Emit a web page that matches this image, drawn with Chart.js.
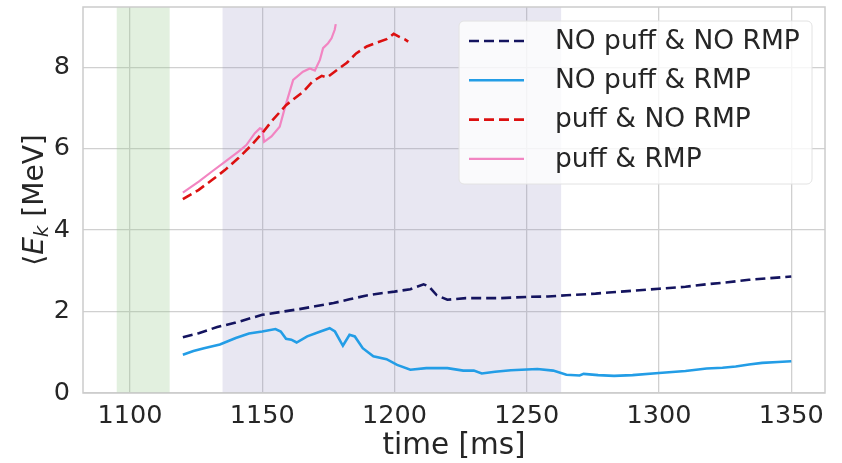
<!DOCTYPE html>
<html>
<head>
<meta charset="utf-8">
<script src="https://cdn.jsdelivr.net/npm/chart.js@4.4.1/dist/chart.umd.min.js"></script>
<style>
  html, body { margin: 0; padding: 0; background: #fff; }
  #wrap { width: 842px; height: 463px; }
</style>
</head>
<body>
<div id="wrap"><canvas id="ekChart" width="842" height="463"></canvas></div>
<script>
// time axis [ms] and mean energy <E_k> [MeV] for each shot
const tNoPuffNoRmp = [1120,1126,1133,1140,1150,1157,1164,1170,1177,1183,1189,1195,1200,1206,1211,1213,1216,1220,1227,1235,1240,1250,1258,1265,1276,1281,1290,1300,1310,1318,1326,1334,1342,1350];
const eNoPuffNoRmp = [1.37,1.47,1.62,1.73,1.92,1.99,2.06,2.13,2.21,2.30,2.39,2.45,2.49,2.55,2.67,2.62,2.40,2.29,2.33,2.33,2.33,2.36,2.37,2.40,2.44,2.47,2.51,2.56,2.61,2.67,2.72,2.78,2.82,2.86];

const tNoPuffRmp = [1120,1124,1128,1134,1140,1145,1150,1155,1157,1159,1161,1163,1167,1172,1175.5,1177.5,1180.5,1183,1185,1188,1192,1197,1201,1206,1212,1220,1226,1230,1233,1238,1244,1254,1260,1265,1270,1271.5,1277,1283,1290,1300,1310,1318,1324,1329,1334,1339,1345,1350];
const eNoPuffRmp = [0.94,1.03,1.10,1.19,1.35,1.46,1.51,1.57,1.51,1.33,1.31,1.24,1.39,1.51,1.59,1.51,1.16,1.43,1.39,1.10,0.90,0.83,0.69,0.57,0.61,0.61,0.55,0.55,0.48,0.52,0.56,0.59,0.55,0.45,0.43,0.47,0.44,0.42,0.44,0.49,0.54,0.60,0.62,0.65,0.70,0.74,0.76,0.78];

const tPuffNoRmp = [1120,1126,1131,1136,1141,1146,1150,1153.5,1159,1165.5,1169,1172.5,1174.5,1178,1182,1185.5,1189.5,1193,1197,1199.7,1202,1203.8,1205.2];
const ePuffNoRmp = [4.76,4.99,5.23,5.48,5.77,6.09,6.38,6.67,7.07,7.40,7.65,7.79,7.75,7.92,8.11,8.34,8.51,8.60,8.69,8.82,8.74,8.69,8.63];

const tPuffRmp = [1120,1126,1131,1136,1141,1144,1147.2,1149.1,1150,1150.7,1153.5,1156.6,1158.5,1161.7,1165.4,1168,1169.9,1171.8,1173,1174.9,1176.2,1177.4,1177.8];
const ePuffRmp = [4.92,5.19,5.44,5.68,5.93,6.09,6.38,6.50,6.48,6.17,6.30,6.54,6.99,7.69,7.89,7.97,7.92,8.18,8.47,8.59,8.71,8.92,9.06];

const seriesLabels = ['NO puff & NO RMP', 'NO puff & RMP', 'puff & NO RMP', 'puff & RMP'];

// shaded time windows [ms]
const puffWindow = [1095, 1115];
const rmpWindow = [1135, 1263];

const xTicks = [1100, 1150, 1200, 1250, 1300, 1350];
const yTicks = [0, 2, 4, 6, 8];

const FONT = "'DejaVu Sans', sans-serif";
const INK = '#262626';

function pts(t, e) {
  return t.map((v, i) => ({ x: v, y: e[i] }));
}

// background bands, frame, axis titles and legend box
const decor = {
  id: 'decor',
  beforeDatasetsDraw(chart) {
    const { ctx, chartArea: a, scales: { x } } = chart;
    ctx.save();
    ctx.fillStyle = 'rgba(150,200,140,0.28)';
    let l = x.getPixelForValue(puffWindow[0]), r = x.getPixelForValue(puffWindow[1]);
    ctx.fillRect(l, a.top, r - l, a.bottom - a.top);
    ctx.fillStyle = 'rgba(140,135,190,0.2)';
    l = x.getPixelForValue(rmpWindow[0]); r = x.getPixelForValue(rmpWindow[1]);
    ctx.fillRect(l, a.top, r - l, a.bottom - a.top);
    ctx.restore();
  },
  afterDatasetsDraw(chart) {
    const { ctx, chartArea: a } = chart;
    ctx.save();
    ctx.strokeStyle = '#cccccc';
    ctx.lineWidth = 1.5;
    ctx.strokeRect(a.left, a.top, a.right - a.left, a.bottom - a.top);

    // x title
    ctx.fillStyle = INK;
    ctx.font = '29.5px ' + FONT;
    ctx.textAlign = 'center';
    ctx.textBaseline = 'middle';
    ctx.fillText('time [ms]', (a.left + a.right) / 2, 446);

    // y title: <E_k [MeV]
    ctx.translate(33, (a.top + a.bottom) / 2);
    ctx.rotate(-Math.PI / 2);
    const parts = [
      { s: '\u27E8', f: '28px ' + FONT, dy: 0 },
      { s: 'E', f: 'italic 28px ' + FONT, dy: 0 },
      { s: 'k', f: 'italic 20px ' + FONT, dy: 5 },
      { s: ' [MeV]', f: '28px ' + FONT, dy: 0 }
    ];
    let w = 0;
    parts.forEach(p => { ctx.font = p.f; w += ctx.measureText(p.s).width; });
    let cx = -w / 2;
    ctx.textAlign = 'left';
    ctx.textBaseline = 'alphabetic';
    parts.forEach(p => {
      ctx.font = p.f;
      ctx.fillText(p.s, cx, 10 + p.dy);
      cx += ctx.measureText(p.s).width;
    });
    ctx.restore();

    // legend
    ctx.save();
    const bx = 459, by = 21, bw = 353, bh = 163;
    ctx.beginPath();
    ctx.roundRect(bx, by, bw, bh, 5);
    ctx.fillStyle = 'rgba(255,255,255,0.8)';
    ctx.fill();
    ctx.strokeStyle = '#e2e2e2';
    ctx.lineWidth = 1;
    ctx.stroke();
    ctx.font = '26.5px ' + FONT;
    ctx.textAlign = 'left';
    ctx.textBaseline = 'middle';
    chart.data.datasets.forEach((ds, i) => {
      const yy = 41 + i * 39.3;
      ctx.beginPath();
      ctx.strokeStyle = ds.borderColor;
      ctx.lineWidth = ds.borderWidth;
      ctx.setLineDash(ds.borderDash || []);
      ctx.moveTo(469, yy);
      ctx.lineTo(524, yy);
      ctx.stroke();
      ctx.setLineDash([]);
      ctx.fillStyle = INK;
      ctx.fillText(ds.label, 555, yy + 1);
    });
    ctx.restore();
  }
};

const ctx = document.getElementById('ekChart').getContext('2d');
new Chart(ctx, {
  type: 'line',
  data: {
    datasets: [
      { label: seriesLabels[0], data: pts(tNoPuffNoRmp, eNoPuffNoRmp), borderColor: '#14145f', borderWidth: 2.6, borderDash: [10, 5] },
      { label: seriesLabels[1], data: pts(tNoPuffRmp, eNoPuffRmp), borderColor: '#239de6', borderWidth: 2.6 },
      { label: seriesLabels[2], data: pts(tPuffNoRmp, ePuffNoRmp), borderColor: '#dc1010', borderWidth: 2.6, borderDash: [10, 5] },
      { label: seriesLabels[3], data: pts(tPuffRmp, ePuffRmp), borderColor: '#f285c2', borderWidth: 2.2 }
    ]
  },
  options: {
    responsive: false,
    animation: false,
    parsing: false,
    elements: { point: { radius: 0 }, line: { tension: 0, fill: false } },
    layout: { padding: { top: 7, right: 17, left: 0, bottom: 0 } },
    plugins: { legend: { display: false }, tooltip: { enabled: false } },
    scales: {
      x: {
        type: 'linear',
        min: 1082.25,
        max: 1362.75,
        afterBuildTicks: s => { s.ticks = xTicks.map(v => ({ value: v })); },
        afterFit: s => { s.height = 70; s.paddingLeft = 0; s.paddingRight = 0; },
        grid: { color: '#d0d0d0', lineWidth: 1.3, drawTicks: false },
        border: { display: false },
        ticks: { color: INK, font: { family: FONT, size: 25.5 }, padding: 8, maxRotation: 0, callback: v => String(v) }
      },
      y: {
        type: 'linear',
        min: 0,
        max: 9.48,
        afterBuildTicks: s => { s.ticks = yTicks.map(v => ({ value: v })); },
        afterFit: s => { s.width = 83; s.paddingTop = 0; s.paddingBottom = 0; },
        grid: { color: '#d0d0d0', lineWidth: 1.3, drawTicks: false },
        border: { display: false },
        ticks: { color: INK, font: { family: FONT, size: 25.5 }, padding: 13, callback: v => String(v) }
      }
    }
  },
  plugins: [decor]
});
</script>
</body>
</html>
